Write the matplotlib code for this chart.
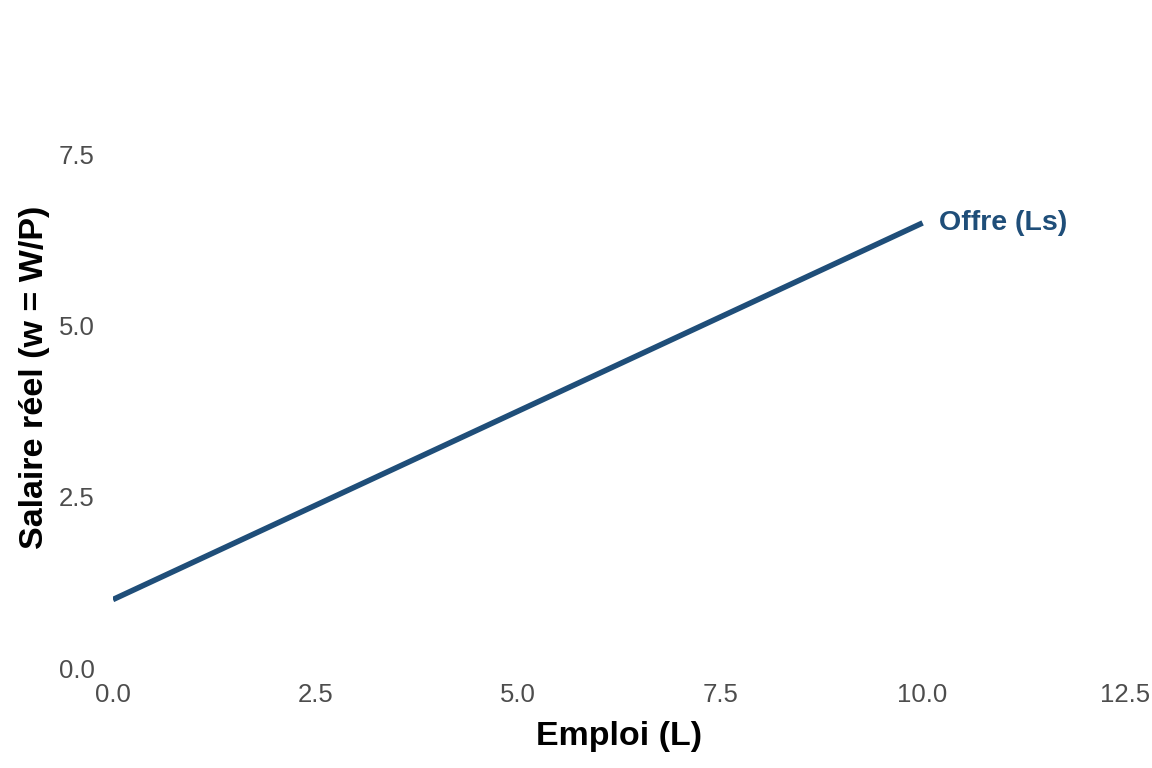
import matplotlib
matplotlib.use("Agg")
import matplotlib.pyplot as plt

# Data
emploi = [0, 10]
salaire = [1.0, 6.5]
label_text = "Offre (Ls)"
xticks = [0.0, 2.5, 5.0, 7.5, 10.0, 12.5]
yticks = [0.0, 2.5, 5.0, 7.5]

plt.rcParams['font.family'] = ['Liberation Sans', 'DejaVu Sans']

fig = plt.figure(figsize=(11.52, 7.68), dpi=100)
ax = fig.add_axes([113/1152, 100/768, (1125-113)/1152, 582/768])

color = "#1f4e79"
ax.plot(emploi, salaire, color=color, lw=4.0, solid_capstyle='butt')
ax.text(emploi[-1] + 0.2, salaire[-1], label_text, color=color, fontsize=20.5,
        fontweight='bold', ha='left', va='center')

ax.set_xlim(0, 12.5)
ax.set_ylim(0, 8.5)
ax.set_xticks(xticks)
ax.set_xticklabels([f"{t:.1f}" for t in xticks])
ax.set_yticks(yticks)
ax.set_yticklabels([f"{t:.1f}" for t in yticks])
for s in ax.spines.values():
    s.set_visible(False)
ax.tick_params(length=0, labelsize=18.5, labelcolor="#4d4d4d")
ax.tick_params(axis='x', pad=10.5)
ax.tick_params(axis='y', pad=13)
ax.set_xlabel("Emploi (L)", fontsize=24.5, fontweight='bold', labelpad=10.5)
ax.set_ylabel("Salaire réel (w = W/P)", fontsize=24.5, fontweight='bold', labelpad=6.5)

fig.savefig("out.png", dpi=100)
